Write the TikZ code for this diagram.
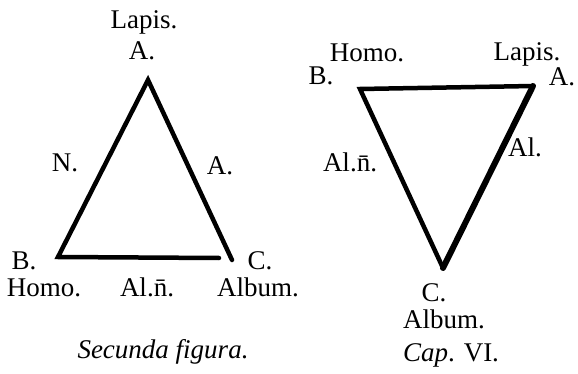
\documentclass[tikz,border=0pt]{standalone}
\usepackage{fontspec}
\setmainfont{Liberation Serif}
\begin{document}
\begin{tikzpicture}[x=1pt, y=-1pt,
    lbl/.style={font=\fontsize{27}{29}\selectfont, anchor=base, inner sep=0pt},
    side/.style={line width=4.5pt, line cap=round, line join=miter}]
          \useasboundingbox (0,0) rectangle (578,374);

          % Secunda figura - apex up
          \coordinate (la) at (148,80);
          \coordinate (lb) at (58,257);
          \coordinate (lbe) at (219,258);
          \coordinate (lc) at (232,260);
          \draw[side] (lc) -- (la) -- (lb) -- (lbe);
          \node[lbl] (lLapis) at (144,29) {Lapis.};
          \node[lbl] (lA) at (142,60) {A.};
          \node[lbl] (lN) at (65,172) {N.};
          \node[lbl] (lAside) at (220,175) {A.};
          \node[lbl] (lB) at (24,269) {B.};
          \node[lbl] (lC) at (260,269) {C.};
          \node[lbl] (lHomo) at (44,296) {Homo.};
          \node[lbl] (lAln) at (147,296) {Al.\=n.};
          \node[lbl] (lAlbum) at (258,296) {Album.};
          \node[lbl, font=\fontsize{27}{29}\selectfont\itshape] (lcap) at (163,358) {Secunda figura.};

          % Cap. VI - apex down
          \coordinate (rb) at (360,89);
          \coordinate (ra) at (533,86);
          \coordinate (rc) at (443,268);
          \draw[side] (rc) -- (rb) -- (ra);
          \draw[side, line width=6pt] (ra) -- (rc);
          \node[lbl] (rHomo) at (367,62) {Homo.};
          \node[lbl] (rLapis) at (527,61) {Lapis.};
          \node[lbl] (rB) at (321,85) {B.};
          \node[lbl] (rA) at (562,86) {A.};
          \node[lbl] (rAln) at (350,172) {Al.\=n.};
          \node[lbl] (rAl) at (525,157) {Al.};
          \node[lbl] (rC) at (434,301) {C.};
          \node[lbl] (rAlbum) at (444,328) {Album.};
          \node[lbl] (rcap) at (451,361) {{\itshape Cap}. VI.};
        \end{tikzpicture}
\end{document}
